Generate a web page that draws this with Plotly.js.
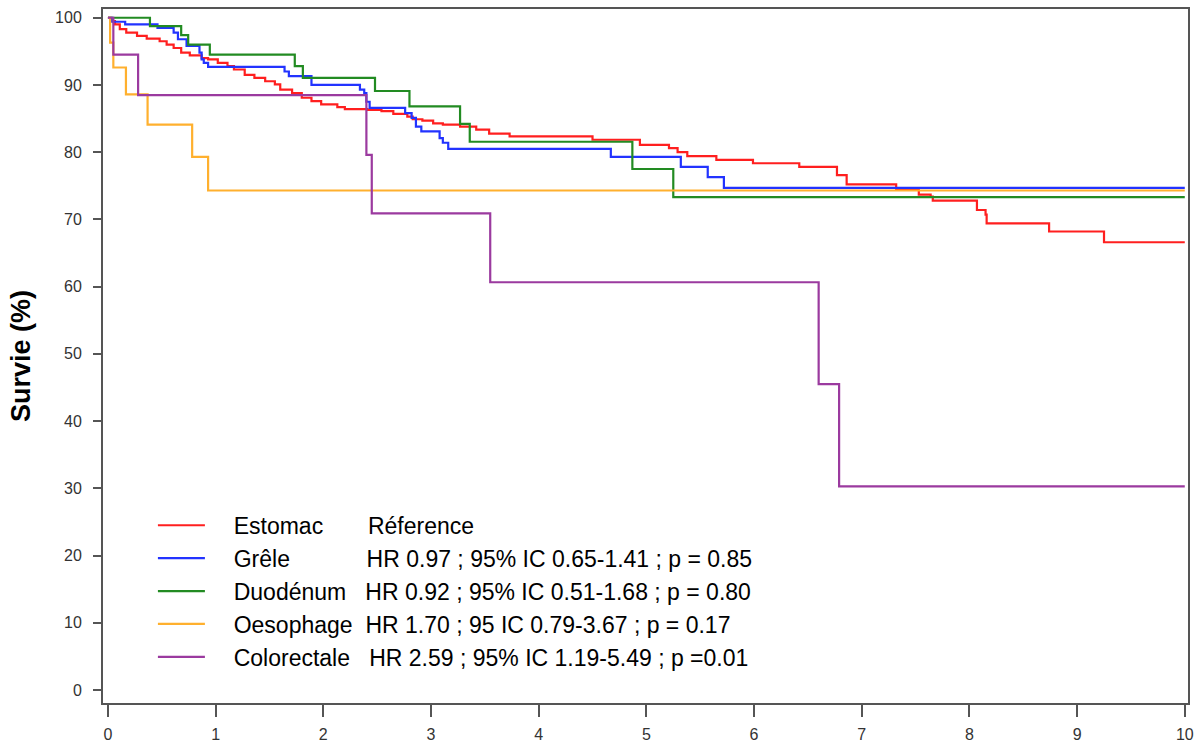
<!DOCTYPE html>
<html>
<head>
<meta charset="utf-8">
<script src="https://cdn.plot.ly/plotly-3.0.1.min.js"></script>
<style>html,body{margin:0;padding:0;background:#fff;}</style>
</head>
<body>
<div id="chart" style="width:1202px;height:747px;"></div>
<script>
// ---- Data (years, survival %) ----
const groupNames = ["Estomac", "Grêle", "Duodénum", "Oesophage", "Colorectale"];
const groupStats = [
  "Réference",
  "HR 0.97 ; 95% IC 0.65-1.41 ; p = 0.85",
  "HR 0.92 ; 95% IC 0.51-1.68 ; p = 0.80",
  "HR 1.70 ; 95 IC 0.79-3.67 ; p = 0.17",
  "HR 2.59 ; 95% IC 1.19-5.49 ; p =0.01"
];

const estomacT = [0,0.03,0.065,0.11,0.17,0.27,0.36,0.48,0.545,0.61,0.68,0.76,0.87,0.93,1.02,1.11,1.17,1.27,1.36,1.46,1.55,1.60,1.71,1.80,1.89,1.98,2.13,2.20,2.41,2.54,2.65,2.78,2.83,2.92,3.02,3.11,3.27,3.42,3.54,3.73,4.50,4.94,5.21,5.29,5.38,5.65,5.99,6.42,6.77,6.86,7.32,7.53,7.64,7.66,8.07,8.15,8.16,8.74,9.25,10];
const estomacS = [100,99.5,99.0,98.3,97.8,97.3,96.9,96.5,96.0,95.5,94.8,94.4,94.0,93.8,93.3,92.8,92.3,91.5,91.05,90.55,90.1,89.3,88.8,88.1,87.6,87.1,86.7,86.4,86.3,86.1,85.7,85.3,84.9,84.7,84.3,84.1,83.8,83.35,82.75,82.35,81.85,81.1,80.6,80.0,79.4,78.85,78.35,77.8,76.6,75.2,74.4,73.7,73.4,72.8,71.4,70.7,69.4,68.2,66.6,66.6];

const greleT = [0,0.04,0.16,0.46,0.61,0.65,0.73,0.85,0.87,0.89,0.93,1.64,1.68,1.89,2.34,2.38,2.40,2.43,2.76,2.82,2.86,2.91,3.08,3.11,3.16,4.67,5.32,5.57,5.72,10];
const greleS = [100,99.4,99.0,98.5,97.8,96.8,95.8,94.8,93.8,93.3,92.7,92.0,91.3,90.0,89.3,88.8,87.5,86.6,85.8,85.1,83.8,83.1,82.1,81.4,80.5,79.3,77.8,76.3,74.7,74.7];

const duodenumT = [0,0.39,0.68,0.745,0.946,1.735,1.81,2.48,2.80,3.27,3.36,4.87,5.25,10];
const duodenumS = [100,98.75,97.4,96.0,94.5,92.8,91.05,89.1,86.8,84.2,81.55,77.5,73.3,73.3];

const oesophageT = [0,0.02,0.05,0.167,0.368,0.782,0.93,10];
const oesophageS = [100,96.3,92.6,88.6,84.1,79.3,74.3,74.3];

const colorectaleT = [0,0.05,0.28,2.40,2.45,3.55,6.60,6.79,10];
const colorectaleS = [100,94.5,88.5,79.6,70.9,60.65,45.5,30.3,30.3];

const xTicks = [0,1,2,3,4,5,6,7,8,9,10];
const yTicks = [0,10,20,30,40,50,60,70,80,90,100];

// ---- Styling ----
const colors = ["#ff1f1f", "#2233ff", "#228b22", "#ffb02e", "#9b3a9f"];
const labelGaps = [7, 12, 3, 2, 3];   // spaces between name and stats
const NB = "\u00a0";
const LEAD = NB + NB + NB + "\u2009";
const FONT = "Liberation Sans, Arial, sans-serif";

const seriesT = [estomacT, greleT, duodenumT, oesophageT, colorectaleT];
const seriesS = [estomacS, greleS, duodenumS, oesophageS, colorectaleS];

const traces = seriesT.map((t, i) => ({
  type: "scatter",
  mode: "lines",
  x: t,
  y: seriesS[i],
  line: { shape: "hv", color: colors[i], width: 2.2 },
  name: LEAD + groupNames[i] + NB.repeat(labelGaps[i]) + groupStats[i],
  hoverinfo: "x+y+name"
}));

const layout = {
  width: 1202,
  height: 747,
  margin: { l: 103, r: 14, t: 9, b: 44, pad: 0 },
  paper_bgcolor: "#ffffff",
  plot_bgcolor: "#ffffff",
  font: { family: FONT, color: "#000" },
  showlegend: true,
  legend: {
    x: 0.046, xanchor: "left",
    y: 0.287, yanchor: "top",
    bgcolor: "rgba(0,0,0,0)",
    borderwidth: 0,
    font: { family: FONT, size: 23, color: "#000" },
    itemwidth: 47,
    tracegroupgap: 0
  },
  xaxis: {
    range: [-0.046, 10.03],
    tickmode: "array",
    tickvals: xTicks,
    ticktext: xTicks.map(String),
    ticks: "outside",
    ticklen: 12,
    tickwidth: 2,
    tickcolor: "#555",
    ticklabelstandoff: 4,
    tickfont: { family: FONT, size: 16, color: "#333" },
    showline: true,
    linewidth: 2,
    linecolor: "#555",
    mirror: true,
    showgrid: false,
    zeroline: false
  },
  yaxis: {
    range: [-1.94, 101.3],
    tickmode: "array",
    tickvals: yTicks,
    ticktext: yTicks.map(String),
    ticks: "outside",
    ticklen: 8,
    tickwidth: 2,
    tickcolor: "#555",
    ticklabelstandoff: 8,
    tickfont: { family: FONT, size: 16, color: "#333" },
    showline: true,
    linewidth: 2,
    linecolor: "#555",
    mirror: true,
    showgrid: false,
    zeroline: false,
    title: {
      text: "Survie (%)",
      font: { family: FONT, size: 27, color: "#000", weight: "bold" },
      standoff: 17
    }
  }
};

Plotly.newPlot("chart", traces, layout, { displayModeBar: false, responsive: false });
</script>
</body>
</html>
